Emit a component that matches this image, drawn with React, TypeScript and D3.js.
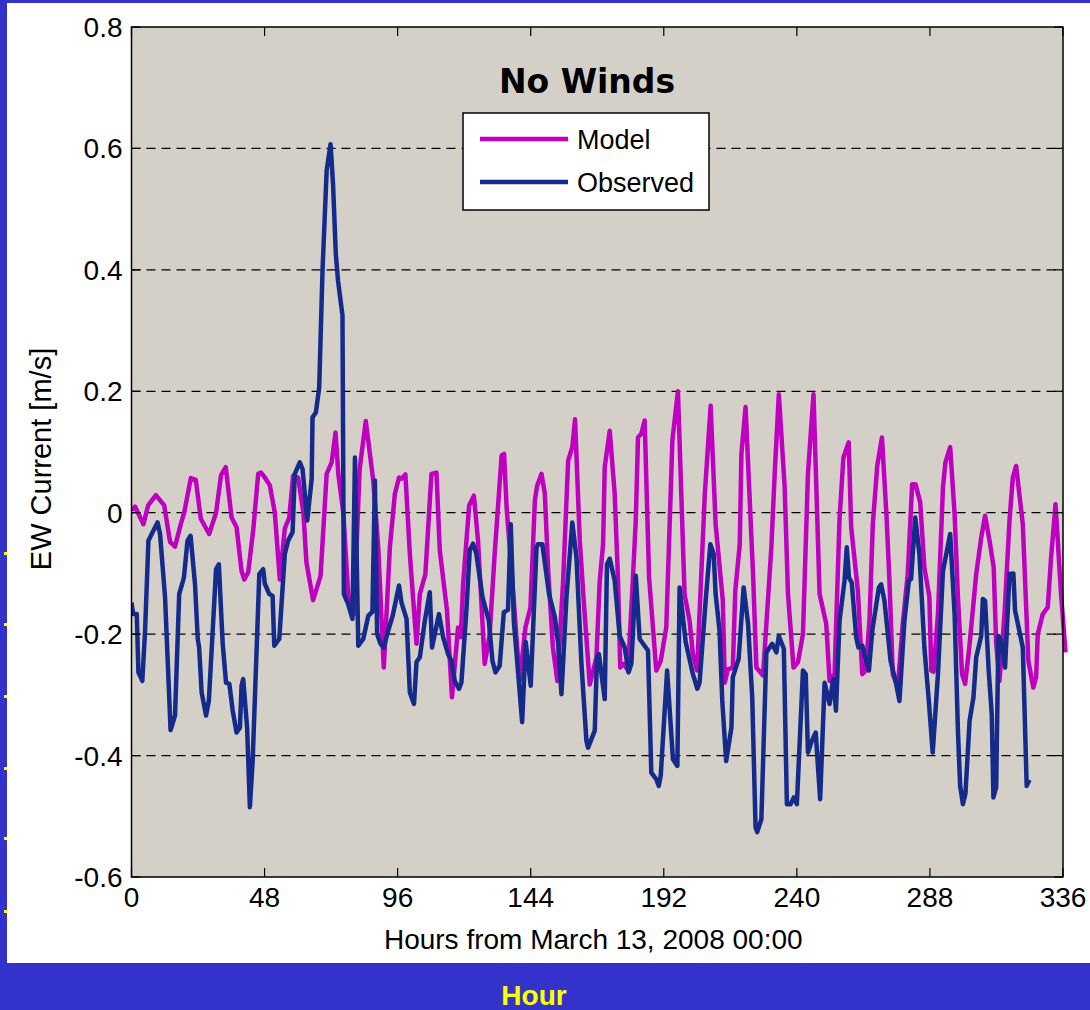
import { useEffect, useRef } from 'react';
import * as d3 from 'd3';

// ── data (hour / value pairs) ────────────────────────────────────────────
const xTicks = [0, 48, 96, 144, 192, 240, 288, 336];
const yTicks = [-0.6, -0.4, -0.2, 0, 0.2, 0.4, 0.6, 0.8];
const gridValues = [-0.4, -0.2, 0, 0.2, 0.4, 0.6];
const seriesNames = ['Model', 'Observed'];

const modelHours = [
  0, 1.3, 4.3, 6, 8.8, 11.8, 13.9, 15.7, 17.7, 19, 21.4, 23.2, 25, 28, 30.5, 32.3, 34, 36.1, 37.9, 39.7,
  40.7, 42.1, 43.9, 45.7, 46.7, 48.1, 49.9, 51.7, 53.5, 55.3, 56.9, 58.3, 60.1, 62, 63.1, 65.5, 68.2, 70.4,
  72.2, 73.6, 74.6, 76.4, 78.2, 80.2, 82.3, 84.5, 87.2, 89, 91, 93.2, 95, 96.5, 97.4, 98.8, 100.4, 102.8,
  104, 106, 108.2, 110, 111.2, 113.8, 115.6, 117.8, 118.8, 119.6, 121.8, 123.5, 125, 127.4, 129.2, 131,
  133.5, 134.4, 135.3, 137.9, 140, 142.1, 143.9, 145.5, 146.3, 147.9, 149.1, 150.3, 152, 153.6, 155.7,
  157.5, 159, 160, 161.7, 163.2, 165.3, 167.7, 168.9, 170.1, 170.7, 172.5, 174.3, 175.5, 176.3, 177.6,
  179.1, 180.7, 181.9, 182.7, 183.9, 185.1, 186.7, 189.3, 190.9, 192.9, 195.1, 197.1, 199.5, 201.3, 202.5,
  204, 206.8, 208.9, 210.7, 213.3, 214, 215.1, 216.9, 217.8, 219.4, 220, 221.5, 224.2, 225.4, 227.8, 230.8,
  232, 233.5, 235.6, 236.8, 238.8, 240.4, 242.2, 244, 246, 248.2, 250.6, 251.8, 253.6, 255.4, 256.8, 258.7,
  259.6, 262, 263.6, 264.8, 266.2, 267.4, 269, 270.7, 272.3, 273.4, 274.6, 276.4, 278.2, 280, 281.6, 282.8,
  284.5, 286, 287.8, 288.5, 289.3, 290.9, 292.7, 293.6, 295.3, 296.9, 298.1, 299.6, 300.7, 302.2, 304.7,
  306.5, 307.9, 309.5, 311, 311.9, 313.1, 314.9, 316.7, 317.9, 319.1, 321.5, 323.5, 325.3, 326.3, 326.9,
  328.7, 330.5, 331.7, 333.3, 335.3, 336.9,
];
const modelValues = [
  0.004, 0.01, -0.019, 0.012, 0.029, 0.012, -0.048, -0.056, -0.02, 0, 0.057, 0.054, -0.01, -0.035, 0, 0.062,
  0.075, -0.008, -0.024, -0.096, -0.11, -0.098, -0.029, 0.064, 0.066, 0.058, 0.045, 0, -0.11, -0.026, -0.008,
  0.061, 0.058, 0, -0.082, -0.144, -0.104, 0.064, 0.083, 0.132, 0.064, 0, -0.136, -0.167, 0.072, 0.151,
  0.053, -0.057, -0.255, -0.057, 0.031, 0.058, 0.056, 0.063, -0.068, -0.216, -0.134, -0.101, 0.064, 0.066,
  -0.062, -0.161, -0.304, -0.189, -0.205, -0.118, 0.012, 0.028, -0.046, -0.249, -0.2, -0.068, 0.094, 0.097,
  0.009, -0.145, -0.277, -0.189, -0.156, 0.02, 0.044, 0.064, 0.031, -0.095, -0.222, -0.277, -0.112, 0.086,
  0.108, 0.154, -0.046, -0.15, -0.283, -0.238, -0.112, -0.052, 0.075, 0.135, 0.031, -0.112, -0.255, -0.249,
  -0.26, -0.123, -0.012, 0.124, 0.13, 0.152, -0.107, -0.26, -0.244, -0.189, 0.119, 0.2, -0.134, -0.178,
  -0.233, -0.26, 0.031, 0.176, -0.019, -0.145, -0.28, -0.258, -0.255, -0.128, -0.052, 0.097, 0.174, -0.101,
  -0.255, -0.268, -0.057, 0.064, 0.195, 0.042, -0.134, -0.255, -0.246, -0.2, 0.064, 0.195, -0.134, -0.183,
  -0.277, -0.266, -0.01, 0.091, 0.116, -0.024, -0.128, -0.266, -0.26, -0.178, -0.019, 0.077, 0.124, -0.002,
  -0.112, -0.266, -0.288, -0.183, -0.101, 0.047, 0.047, 0.017, -0.09, -0.139, -0.26, -0.262, -0.167, 0.042,
  0.083, 0.108, -0.002, -0.139, -0.266, -0.282, -0.222, -0.101, -0.041, -0.005, -0.046, -0.09, -0.216,
  -0.277, -0.167, -0.013, 0.058, 0.077, -0.019, -0.244, -0.288, -0.271, -0.2, -0.167, -0.156, -0.074, 0.014,
  -0.134, -0.23,
];

const obsHours = [
  0, 0.6, 1.9, 2.5, 3.9, 4.9, 6.1, 7.6, 9.4, 10.3, 12.1, 14.1, 15.7, 17.2, 18.9, 20.2, 21.3, 22.9, 23.9,
  24.4, 25.3, 26.9, 27.9, 30.5, 31.5, 32.9, 34.1, 35.3, 36.5, 37.9, 39.1, 39.7, 40.3, 41.7, 42.7, 43.7,
  46.1, 47.5, 48.1, 49.7, 50.9, 51.5, 53.3, 55.3, 56.5, 58.1, 58.9, 60.7, 61.7, 63.4, 65, 65.3, 66.5, 67.7,
  68.9, 70.4, 71.8, 72.7, 73.7, 74.5, 76.1, 76.6, 78.1, 79.7, 80.6, 81.8, 83.6, 85.4, 86.9, 87.8, 88.6,
  89.8, 91, 92.6, 94.2, 96.5, 97.4, 99.2, 100.4, 101.9, 102.8, 104, 105.8, 107.6, 108.4, 110.9, 112.4,
  114.2, 115.4, 116.6, 118.1, 119, 120.8, 122, 123.2, 124.4, 126.6, 128.9, 130.2, 131.3, 132.8, 134.3,
  135.8, 136.8, 137.9, 139.1, 140.9, 142.2, 144, 146.1, 146.6, 148.2, 150.6, 152.7, 153.9, 155.1, 156.9,
  159, 160.5, 162.3, 164.1, 164.7, 167.1, 167.9, 168.6, 170.7, 171.5, 172.5, 174.3, 176.1, 177.9, 179.3,
  180.3, 181.9, 183.3, 186.3, 187.5, 189.3, 190.2, 190.9, 193.2, 195.3, 196.9, 197.7, 199.9, 202.5, 204.1,
  204.9, 207.1, 208.8, 210, 210.7, 212.1, 213.1, 214.5, 216.4, 216.9, 219, 220.8, 222.4, 223.9, 225.1,
  225.7, 227.2, 229, 231.1, 232.6, 233.5, 235.3, 236.4, 237.7, 238.9, 240, 242.2, 243.2, 244, 245.2, 246.8,
  248.4, 250, 251.8, 253.1, 254.1, 255.4, 257.2, 258, 258.8, 259.8, 261.4, 262.2, 263.6, 265, 266, 267.2,
  269.6, 270.4, 271.6, 273.8, 275.6, 277, 278.8, 280.4, 281.2, 282.7, 284.2, 286, 287.6, 289, 290.9, 292.7,
  295.3, 296.9, 298.1, 298.9, 299.9, 300.8, 302.3, 303.7, 304.7, 306.5, 307.1, 307.9, 309.2, 310.3, 310.9,
  311.9, 312.7, 313.7, 315.1, 316.7, 318.1, 318.7, 320, 321.5, 322.9, 323.9,
];
const obsValues = [
  -0.148, -0.167, -0.167, -0.263, -0.277, -0.194, -0.046, -0.032, -0.016, -0.035, -0.139, -0.358, -0.334,
  -0.134, -0.107, -0.046, -0.038, -0.117, -0.208, -0.222, -0.296, -0.334, -0.31, -0.093, -0.085, -0.216,
  -0.28, -0.282, -0.326, -0.362, -0.354, -0.285, -0.274, -0.354, -0.485, -0.409, -0.101, -0.093, -0.117,
  -0.134, -0.137, -0.219, -0.208, -0.068, -0.046, -0.032, 0.064, 0.083, 0.072, -0.013, 0.056, 0.157, 0.165,
  0.206, 0.399, 0.564, 0.607, 0.541, 0.426, 0.382, 0.325, -0.134, -0.15, -0.175, 0.091, -0.219, -0.208,
  -0.17, -0.163, 0.053, -0.2, -0.216, -0.222, -0.194, -0.17, -0.12, -0.148, -0.175, -0.296, -0.315, -0.246,
  -0.238, -0.178, -0.131, -0.222, -0.167, -0.205, -0.233, -0.244, -0.277, -0.29, -0.28, -0.161, -0.062,
  -0.051, -0.068, -0.139, -0.178, -0.244, -0.263, -0.252, -0.164, -0.16, -0.019, -0.178, -0.244, -0.345,
  -0.213, -0.285, -0.057, -0.052, -0.052, -0.134, -0.172, -0.216, -0.299, -0.139, -0.016, -0.074, -0.249,
  -0.376, -0.387, -0.359, -0.238, -0.233, -0.307, -0.085, -0.076, -0.112, -0.203, -0.222, -0.263, -0.249,
  -0.104, -0.208, -0.227, -0.428, -0.439, -0.45, -0.433, -0.26, -0.406, -0.417, -0.123, -0.213, -0.266,
  -0.29, -0.28, -0.145, -0.052, -0.068, -0.134, -0.194, -0.31, -0.409, -0.354, -0.271, -0.241, -0.123,
  -0.183, -0.304, -0.518, -0.526, -0.505, -0.23, -0.216, -0.23, -0.203, -0.224, -0.48, -0.48, -0.469, -0.48,
  -0.26, -0.266, -0.395, -0.378, -0.362, -0.472, -0.28, -0.315, -0.274, -0.326, -0.178, -0.112, -0.057,
  -0.107, -0.115, -0.205, -0.222, -0.219, -0.244, -0.26, -0.194, -0.123, -0.118, -0.145, -0.244, -0.277,
  -0.31, -0.178, -0.112, -0.109, -0.008, -0.068, -0.222, -0.31, -0.395, -0.266, -0.096, -0.035, -0.167,
  -0.359, -0.45, -0.48, -0.463, -0.343, -0.304, -0.238, -0.203, -0.142, -0.145, -0.26, -0.332, -0.469,
  -0.452, -0.203, -0.211, -0.255, -0.101, -0.1, -0.161, -0.189, -0.222, -0.45, -0.44,
];

const W = 1090, H = 1010;
const M = { left: 131.5, right: 1063, top: 27, bottom: 877 };
const font = '"Liberation Sans", Arial, sans-serif';
const MODEL_COLOR = '#c000c0';
const OBS_COLOR = '#142b8c';

export default function App() {
  const svgRef = useRef<SVGSVGElement>(null);

  useEffect(() => {
    const svg = d3.select(svgRef.current);
    svg.selectAll('*').remove();

    // slide background + white panel
    svg.append('rect').attr('width', W).attr('height', H).attr('fill', '#3333cc');
    svg.append('rect').attr('x', 7).attr('y', 3).attr('width', W - 7).attr('height', 960).attr('fill', '#fff');
    [553, 624, 696, 768, 838, 911].forEach(y => {
      svg.append('rect').attr('x', 4).attr('y', y - 1).attr('width', 3).attr('height', 3).attr('fill', '#ffff00');
    });
    svg.append('text')
      .attr('x', 534).attr('y', 1005)
      .attr('text-anchor', 'middle')
      .attr('font-family', font).attr('font-weight', 'bold').attr('font-size', 28)
      .attr('fill', '#ffff00')
      .text('Hour');

    const x = d3.scaleLinear().domain([0, 336]).range([M.left, M.right]);
    const y = d3.scaleLinear().domain([-0.6, 0.8]).range([M.bottom, M.top]);

    // plot area
    svg.append('rect')
      .attr('x', M.left).attr('y', M.top)
      .attr('width', M.right - M.left).attr('height', M.bottom - M.top)
      .attr('fill', '#d4d0c8');

    // grid
    svg.append('g').selectAll('line')
      .data(gridValues)
      .join('line')
      .attr('x1', M.left).attr('x2', M.right)
      .attr('y1', d => y(d)).attr('y2', d => y(d))
      .attr('stroke', '#000').attr('stroke-width', 1.2)
      .attr('stroke-dasharray', '9,6');

    // lines
    const line = d3.line<[number, number]>()
      .x(d => x(d[0]))
      .y(d => y(d[1]));

    const clip = svg.append('clipPath').attr('id', 'plotclip');
    clip.append('rect')
      .attr('x', M.left).attr('y', M.top)
      .attr('width', M.right - M.left + 5).attr('height', M.bottom - M.top);

    const modelPts = modelHours.map((h, i) => [h, modelValues[i]] as [number, number]);
    const obsPts = obsHours.map((h, i) => [h, obsValues[i]] as [number, number]);

    const plot = svg.append('g').attr('clip-path', 'url(#plotclip)');
    plot.append('path')
      .attr('d', line(modelPts))
      .attr('fill', 'none').attr('stroke', MODEL_COLOR)
      .attr('stroke-width', 4.5).attr('stroke-linejoin', 'round');
    plot.append('path')
      .attr('d', line(obsPts))
      .attr('fill', 'none').attr('stroke', OBS_COLOR)
      .attr('stroke-width', 4.5).attr('stroke-linejoin', 'round');

    // frame
    svg.append('rect')
      .attr('x', M.left).attr('y', M.top)
      .attr('width', M.right - M.left).attr('height', M.bottom - M.top)
      .attr('fill', 'none').attr('stroke', '#000').attr('stroke-width', 1.5);

    // inward ticks on all four sides
    const tickLen = 9;
    const tk = svg.append('g').attr('stroke', '#000').attr('stroke-width', 1.2);
    xTicks.forEach(t => {
      tk.append('line').attr('x1', x(t)).attr('x2', x(t)).attr('y1', M.bottom).attr('y2', M.bottom - tickLen);
      tk.append('line').attr('x1', x(t)).attr('x2', x(t)).attr('y1', M.top).attr('y2', M.top + tickLen);
    });
    yTicks.forEach(t => {
      tk.append('line').attr('x1', M.left).attr('x2', M.left + tickLen).attr('y1', y(t)).attr('y2', y(t));
      tk.append('line').attr('x1', M.right).attr('x2', M.right - tickLen).attr('y1', y(t)).attr('y2', y(t));
    });

    // tick labels
    svg.append('g').selectAll('text')
      .data(xTicks)
      .join('text')
      .attr('x', d => x(d)).attr('y', M.bottom + 30)
      .attr('text-anchor', 'middle')
      .attr('font-family', font).attr('font-size', 28)
      .text(d => String(d));

    svg.append('g').selectAll('text')
      .data(yTicks)
      .join('text')
      .attr('x', M.left - 9).attr('y', d => y(d) + 10)
      .attr('text-anchor', 'end')
      .attr('font-family', font).attr('font-size', 28)
      .text(d => (d === 0 ? '0' : d.toFixed(1)));

    // axis titles
    svg.append('text')
      .attr('x', (M.left + M.right) / 2 - 4).attr('y', 949)
      .attr('text-anchor', 'middle')
      .attr('font-family', font).attr('font-size', 28)
      .text('Hours from March 13, 2008 00:00');

    svg.append('text')
      .attr('transform', 'translate(51,459) rotate(-90)')
      .attr('text-anchor', 'middle')
      .attr('font-family', font).attr('font-size', 29)
      .text('EW Current [m/s]');

    // title
    svg.append('text')
      .attr('x', 587).attr('y', 93)
      .attr('text-anchor', 'middle')
      .attr('font-family', '"Comic Sans MS", "DejaVu Sans", sans-serif')
      .attr('font-weight', 'bold').attr('font-size', 33)
      .text('No Winds');

    // legend
    const lg = svg.append('g').attr('transform', 'translate(463,113)');
    lg.append('rect')
      .attr('width', 246).attr('height', 97)
      .attr('fill', '#fff').attr('stroke', '#000').attr('stroke-width', 1.5);
    [MODEL_COLOR, OBS_COLOR].forEach((c, i) => {
      lg.append('line')
        .attr('x1', 17).attr('x2', 105)
        .attr('y1', 26 + i * 43).attr('y2', 26 + i * 43)
        .attr('stroke', c).attr('stroke-width', 4.5);
      lg.append('text')
        .attr('x', 114).attr('y', 36 + i * 43)
        .attr('font-family', font).attr('font-size', 27)
        .text(seriesNames[i]);
    });
  }, []);

  return (
    <svg
      ref={svgRef}
      width={W}
      height={H}
      style={{ position: 'absolute', left: 0, top: 0, display: 'block' }}
    />
  );
}
